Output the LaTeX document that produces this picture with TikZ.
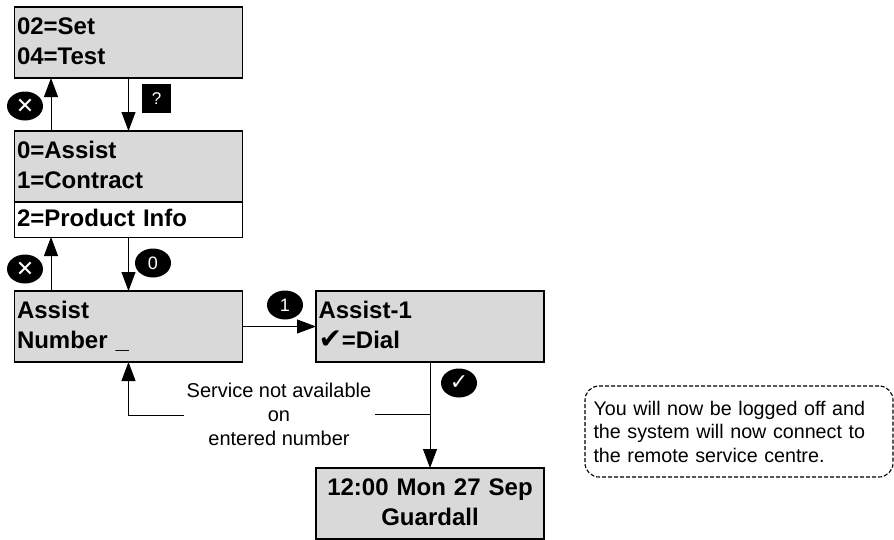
\documentclass[tikz,border=0pt]{standalone}
\usepackage{fontspec}
\setmainfont{Liberation Sans}
\newfontfamily\djv{DejaVu Sans}
\usetikzlibrary{arrows.meta,shapes.geometric,calc}
\tikzset{
  x=1pt,y=-1pt,
  lcd/.style={draw=black,fill=lcdgray,line width=1.8pt,minimum width=228pt,minimum height=71pt,inner sep=0pt,outer sep=0pt,
    text depth=33pt,font=\fontsize{24}{30}\selectfont\bfseries},
  lcdleft/.style={lcd,align=left,text width=223pt},
  lcdmid/.style={lcd,align=center,text width=223pt},
  spare/.style={draw=black,fill=white,line width=0.7pt,minimum width=228pt,minimum height=35pt,inner sep=0pt,outer sep=0pt,
    text depth=3pt,align=left,text width=223pt,font=\fontsize{24}{30}\selectfont\bfseries},
  keyoval/.style={ellipse,fill=black,text=white,minimum width=36pt,minimum height=29pt,inner sep=0pt,font=\fontsize{18}{18}\selectfont},
  keyglyph/.style={keyoval,font=\djv\fontsize{22}{22}\selectfont},
  keysq/.style={rectangle,fill=black,text=white,minimum size=29pt,inner sep=0pt,font=\fontsize{17}{17}\selectfont},
  conn/.style={draw=black,line width=0.8pt,-{Triangle[length=19pt,width=14pt]}},
  plain/.style={draw=black,line width=0.8pt},
  note/.style={font=\fontsize{20}{24}\selectfont,align=center,inner sep=0pt},
  remark/.style={draw=black,line width=1.1pt,dash pattern=on 4pt off 2pt,rounded corners=14pt,minimum width=308pt,minimum height=91pt,align=left,
    text width=291pt,inner sep=0pt,font=\fontsize{19.7}{23.5}\selectfont}
}
\definecolor{lcdgray}{HTML}{D9D9D9}
\begin{document}
\begin{tikzpicture}
\useasboundingbox (0,0) rectangle (894,539);
\node[lcdleft] (a) at (128.5,42.5) {02=Set\\04=Test};
\node[lcdleft] (b) at (128.5,166.5) {0=Assist\\1=Contract};
\node[spare] (c) at (128.5,219.5) {2=Product Info};
\node[lcdleft] (d) at (128.5,326.5) {Assist\\Number \_};
\node[lcdleft] (e) at (430,326.5) {Assist-1\\{\djv\fontsize{28}{30}\selectfont ✔}=Dial};
\node[lcdmid] (f) at (430,503.5) {12:00 Mon 27 Sep\\Guardall};
\node[note] (svc) at (279,414) {Service not available\\on\\entered number};
\node[remark] (r) at (739,431.5) {You will now be logged off and\\the system will now connect to\\the remote service centre.};
\node[keyglyph] (kx1) at (25,106) {✕};
\node[keyglyph] (kx2) at (25,269) {✕};
\node[keysq] (kq) at (156.5,98.5) {?};
\node[keyoval] (k0) at (153,263) {0};
\node[keyoval] (k1) at (285,305) {1};
\node[keyglyph] (kc) at (459,383) {✓};
\draw[conn] (b.north -| 51,0) -- (a.south -| 51,0);
\draw[conn] (a.south) -- (b.north);
\draw[conn] (d.north -| 51,0) -- (c.south -| 51,0);
\draw[conn] (c.south) -- (d.north);
\draw[conn] (d.east) -- (e.west);
\draw[conn] (e.south) -- (f.north);
\coordinate (j) at (e.south |- svc.center);
\draw[plain] (j) -- (svc.east -| 375,0);
\draw[conn] (184,415) -| (d.south);
\end{tikzpicture}
\end{document}
